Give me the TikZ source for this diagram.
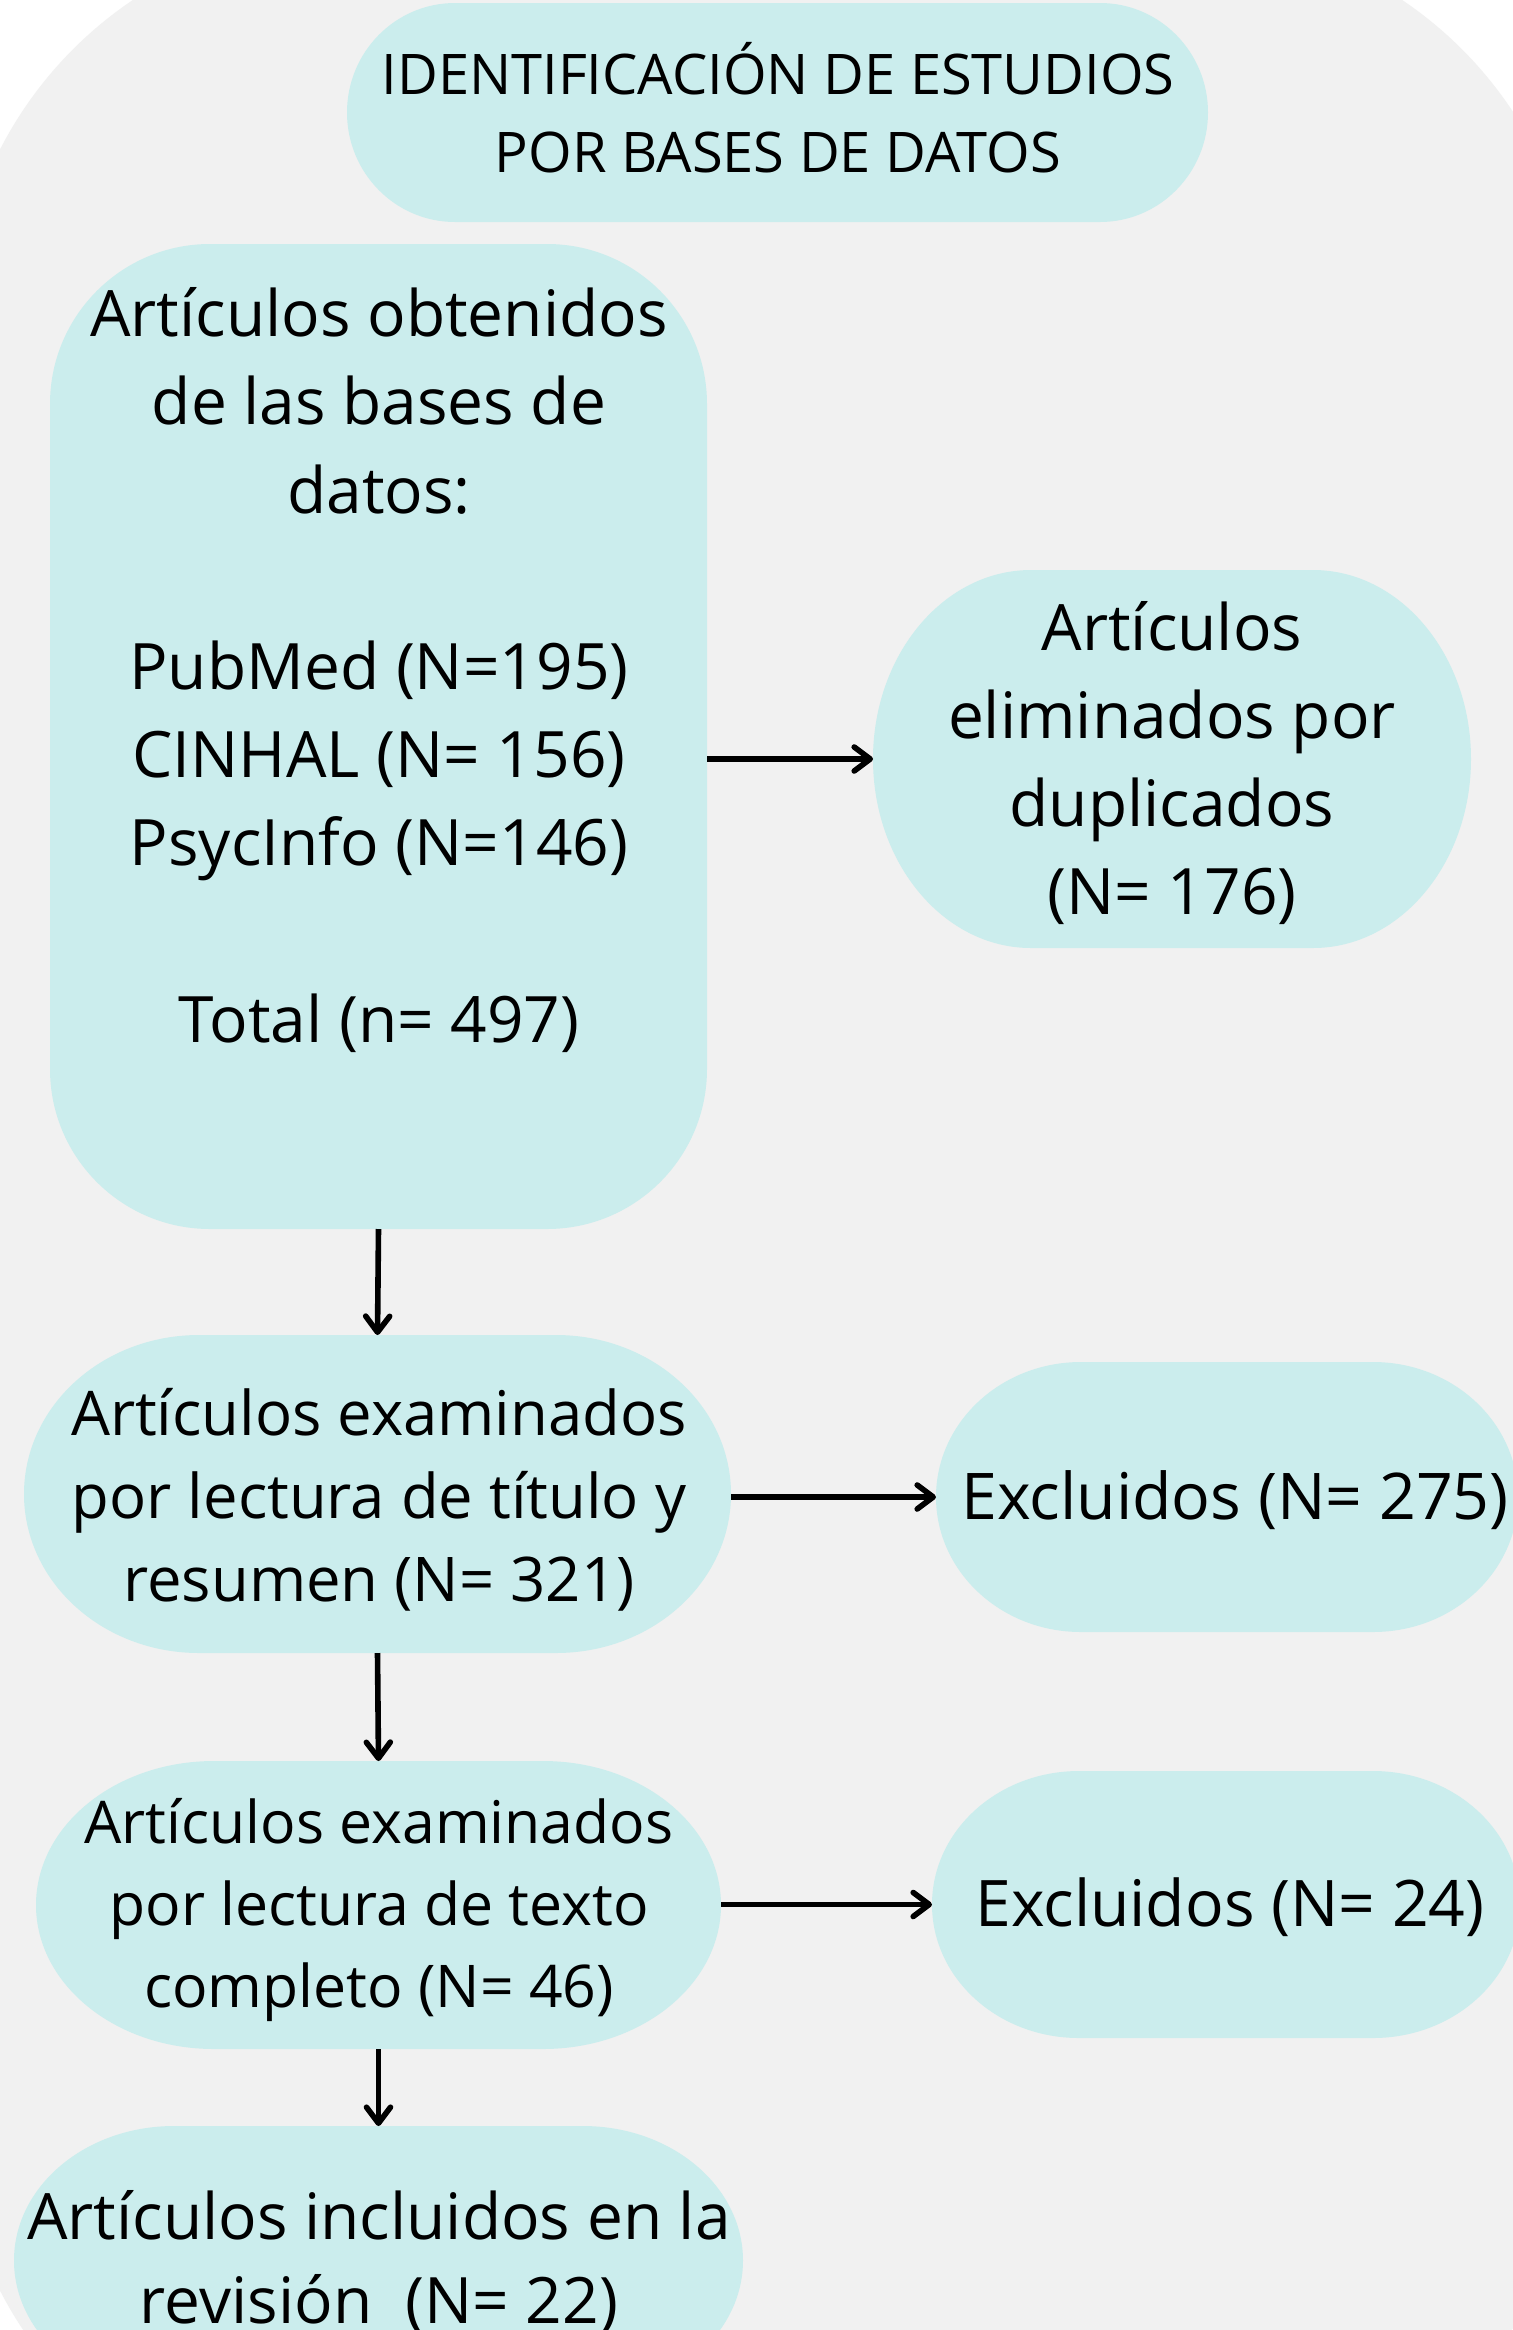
\documentclass[tikz,border=0pt]{standalone}
\usepackage{fontspec}
\setmainfont{Open Sans}
\usetikzlibrary{arrows.meta,fit}
\definecolor{bggray}{RGB}{241,241,241}
\definecolor{boxcyan}{RGB}{203,237,237}
\tikzset{
  flowarrow/.style={line width=2.8pt, -{Straight Barb[length=8pt,width=12pt,line cap=round,line join=round]}},
  boxanchor/.style={inner sep=0pt, outer sep=0pt, draw=none},
  lbl/.style={align=center, text=black, inner sep=0pt},
  boxfill/.style={fill=boxcyan},
}
% #1 name, #2 x1, #3 y1, #4 x2, #5 y2, #6 rx, #7 ry
\newcommand\ovalbox[7]{%
  \fill[boxfill] (#2,#3+#7) arc[start angle=180,end angle=270,x radius=#6,y radius=#7]
    -- (#4-#6,#3) arc[start angle=270,end angle=360,x radius=#6,y radius=#7]
    -- (#4,#5-#7) arc[start angle=0,end angle=90,x radius=#6,y radius=#7]
    -- (#2+#6,#5) arc[start angle=90,end angle=180,x radius=#6,y radius=#7] -- cycle;
  \node[fit={(#2,#3) (#4,#5)}, boxanchor] (#1) {};
}
\begin{document}
\begin{tikzpicture}[x=0.5pt,y=-0.5pt]
\useasboundingbox (0,0) rectangle (1513,2330);
\clip (0,0) rectangle (1513,2330);
\fill[white] (0,0) rectangle (1513,2330);
\fill[bggray, rounded corners=200pt] (-44,-68) rectangle (1579,2508);

\ovalbox{title}{347}{3}{1208}{222}{108}{109.5}
\ovalbox{big}{50}{244}{707}{1229}{160}{160}
\ovalbox{elim}{873}{570}{1471}{948}{158}{189}
\ovalbox{exam}{24}{1335}{731}{1653}{175}{159}
\ovalbox{excA}{936}{1362}{1518}{1632}{145}{135}
\ovalbox{texto}{36}{1761}{721}{2049}{178}{144}
\ovalbox{excB}{932}{1771}{1520}{2038}{147}{133.5}
\ovalbox{incl}{14}{2126}{743}{2395}{160}{134.5}

\node[lbl, font=\fontsize{28}{39}\selectfont] (titletext) at (778,108) {IDENTIFICACIÓN DE ESTUDIOS\\POR BASES DE DATOS};
\node[lbl, font=\fontsize{32}{44.1}\selectfont] (bigtext) at (379,670) {Artículos obtenidos\\de las bases de\\datos:\\\mbox{}\\PubMed (N=195)\\CINHAL (N= 156)\\PsycInfo (N=146)\\\mbox{}\\Total (n= 497)};
\node[lbl, font=\fontsize{32}{43.85}\selectfont] (elimtext) at (1172,763) {Artículos\\eliminados por\\duplicados\\(N= 176)};
\node[lbl, font=\fontsize{30.8}{41.5}\selectfont] (examtext) at (379,1500) {Artículos examinados\\por lectura de título y\\resumen (N= 321)};
\node[lbl, font=\fontsize{32.2}{43.85}\selectfont] (excAtext) at (1235,1500) {Excluidos (N= 275)};
\node[lbl, font=\fontsize{29.45}{40.9}\selectfont] (textotext) at (379,1910) {Artículos examinados\\por lectura de texto\\completo (N= 46)};
\node[lbl, font=\fontsize{32.1}{43.85}\selectfont] (excBtext) at (1230,1907) {Excluidos (N= 24)};
\node[lbl, font=\fontsize{32}{42}\selectfont] (incltext) at (379,2262) {Artículos incluidos en la\\revisión\ \ (N= 22)};

\draw[flowarrow] (big.east |- elim.west) -- (elim.west);
\draw[flowarrow] (big.south) -- (exam.north);
\draw[flowarrow] (exam.east |- excA.west) -- (excA.west);
\draw[flowarrow] (exam.south) -- (texto.north);
\draw[flowarrow] (texto.east |- excB.west) -- (excB.west);
\draw[flowarrow] (texto.south) -- (incl.north);
\end{tikzpicture}
\end{document}
